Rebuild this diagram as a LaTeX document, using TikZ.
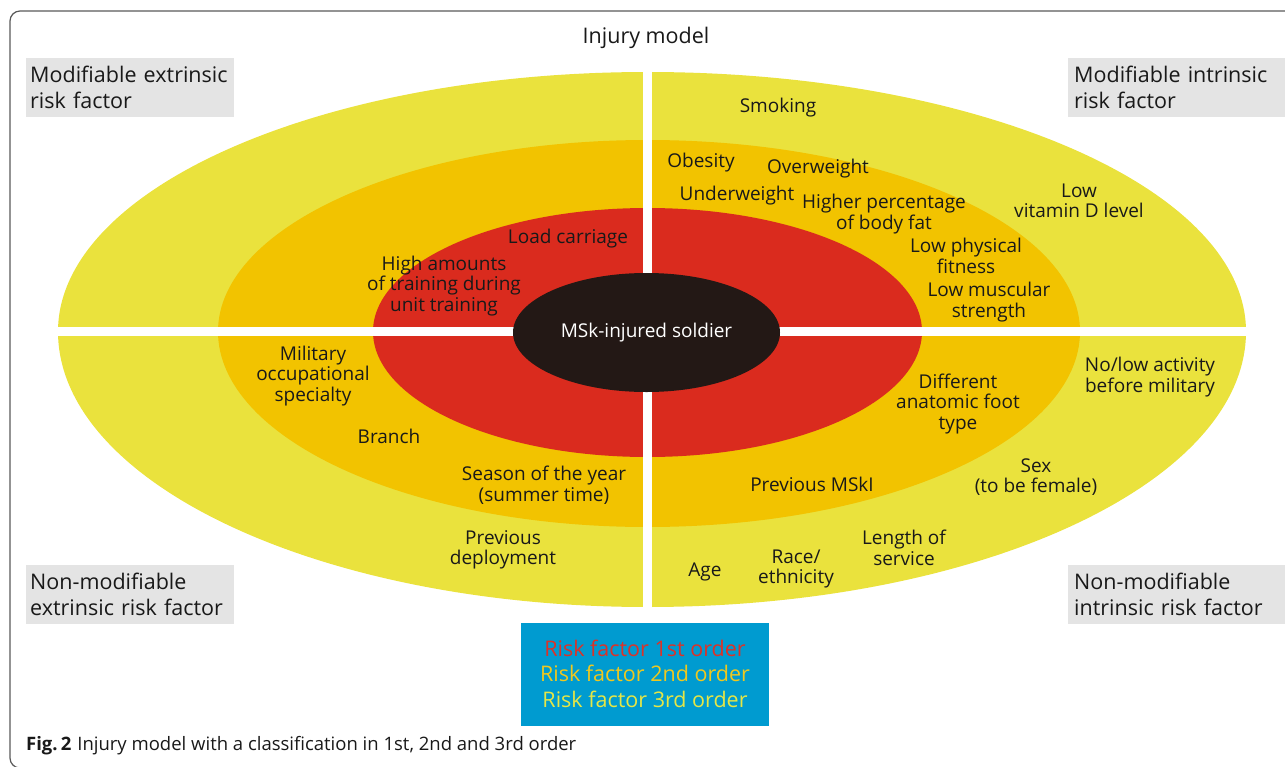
\documentclass[tikz,border=0pt]{standalone}
\usepackage{fontspec}
\setmainfont{Open Sans}
\usetikzlibrary{shapes.geometric}
\definecolor{yellowRing}{rgb}{0.918,0.886,0.239}
\definecolor{orangeRing}{rgb}{0.949,0.765,0.0}
\definecolor{redRing}{rgb}{0.855,0.169,0.118}
\definecolor{coreColor}{rgb}{0.137,0.094,0.082}
\definecolor{boxGray}{rgb}{0.894,0.894,0.894}
\definecolor{legendBlue}{rgb}{0.0,0.608,0.816}
\definecolor{legendRed}{rgb}{0.863,0.196,0.157}
\definecolor{legendOrange}{rgb}{0.941,0.784,0.118}
\definecolor{legendYellow}{rgb}{0.902,0.902,0.275}
\definecolor{frameGray}{rgb}{0.35,0.35,0.35}
\definecolor{textBlack}{rgb}{0.1,0.1,0.1}

\begin{document}
\begin{tikzpicture}[x=1pt,y=-1pt]

          \tikzstyle{factorNode} = [text=textBlack, align=center, inner sep=0pt, font=\fontsize{19}{20.5}\selectfont];
          \tikzstyle{cornerBox} = [fill=boxGray, text=textBlack, anchor=north west, minimum height=59pt, text width=200pt, inner xsep=4pt, align=left, font=\fontsize{21.5}{26}\selectfont];
          \tikzstyle{rightBox} = [cornerBox, text width=214pt, inner xsep=6pt];
          \tikzstyle{legendLine} = [inner sep=0pt, font=\fontsize{21.5}{25}\selectfont];

          \useasboundingbox (0,0) rectangle (1285,766);
          \clip (0,0) rectangle (1285,766);

          % frame
          \draw[frameGray, line width=1.2pt, rounded corners=10pt] (10,11) rectangle (1300,768);

          % rings, quarter by quarter
          \foreach \col/\rxl/\rxr/\ryu/\ryd in {yellowRing/589.5/598.5/259.5/275.5, orangeRing/429.5/432.5/191.5/195.5, redRing/274.5/274.5/123.5/125.5}
          {
            \fill[\col] (647.5,331.5) -- ++(-\rxl,0) arc[start angle=180, end angle=90, x radius=\rxl pt, y radius=\ryu pt] -- cycle;
            \fill[\col] (647.5,331.5) -- ++(\rxr,0) arc[start angle=0, end angle=90, x radius=\rxr pt, y radius=\ryu pt] -- cycle;
            \fill[\col] (647.5,331.5) -- ++(-\rxl,0) arc[start angle=180, end angle=270, x radius=\rxl pt, y radius=\ryd pt] -- cycle;
            \fill[\col] (647.5,331.5) -- ++(\rxr,0) arc[start angle=0, end angle=-90, x radius=\rxr pt, y radius=\ryd pt] -- cycle;
          }

          % white gaps
          \draw[white, line width=9pt] (40,331.5) -- (1260,331.5);
          \draw[white, line width=9pt] (647.5,60) -- (647.5,615);

          \node[ellipse, fill=coreColor, minimum width=267pt, minimum height=119pt, inner sep=0pt, text=white, font=\fontsize{19}{22}\selectfont] (soldier) at (646.5,332.5) {MSk-injured soldier};

          \node[text=textBlack, font=\fontsize{21.5}{24}\selectfont] (title) at (646,38) {Injury model};

          % corner boxes
          \node[cornerBox] (modExt) at (26,58) {Modifiable extrinsic\\risk factor};
          \node[rightBox] (modInt) at (1068,58) {Modifiable intrinsic\\risk factor};
          \node[cornerBox] (nonExt) at (26,565) {Non-modifiable\\extrinsic risk factor};
          \node[rightBox] (nonInt) at (1068,565) {Non-modifiable\\intrinsic risk factor};

          % first order
          \node[factorNode] (load) at (568,239) {Load carriage};
          \node[factorNode] (training) at (444,286) {High amounts\\of training during\\unit training};

          % second order
          \node[factorNode] (obesity) at (701,163) {Obesity};
          \node[factorNode] (overweight) at (818,169) {Overweight};
          \node[factorNode] (underweight) at (737,196) {Underweight};
          \node[factorNode] (bodyfat) at (884,214) {Higher percentage\\of body fat};
          \node[factorNode] (fitness) at (966,256) {Low physical\\fitness};
          \node[factorNode] (strength) at (989,302) {Low muscular\\strength};
          \node[factorNode] (specialty) at (313,376) {Military\\occupational\\specialty};
          \node[factorNode] (branch) at (389,436) {Branch};
          \node[factorNode] (season) at (544,485) {Season of the year\\(summer time)};
          \node[factorNode] (foot) at (958,404) {Different\\anatomic foot\\type};
          \node[factorNode] (prevMski) at (812,484) {Previous MSkI};

          % third order
          \node[factorNode] (smoking) at (778,108) {Smoking};
          \node[factorNode] (vitamin) at (1079,201) {Low\\vitamin D level};
          \node[factorNode] (deployment) at (503,550) {Previous\\deployment};
          \node[factorNode] (activity) at (1150,377) {No/low activity\\before military};
          \node[factorNode] (sex) at (1036,477) {Sex\\(to be female)};
          \node[factorNode] (age) at (705,572) {Age};
          \node[factorNode] (race) at (796,569) {Race/\\ethnicity};
          \node[factorNode] (service) at (904,548) {Length of\\service};

          % legend
          \fill[legendBlue] (521,623) rectangle (769,726);
          \node[legendLine, text=legendRed] (first) at (645,648) {Risk factor 1st order};
          \node[legendLine, text=legendOrange] (second) at (645,673) {Risk factor 2nd order};
          \node[legendLine, text=legendYellow] (third) at (645,699) {Risk factor 3rd order};

          \node[anchor=west, inner sep=0pt, text=textBlack, font=\fontsize{18.5}{22}\selectfont] (caption) at (26,746) {\textbf{Fig.\,2}\hspace{6pt}Injury model with a classification in 1st, 2nd and 3rd order};
        \end{tikzpicture}
\end{document}
